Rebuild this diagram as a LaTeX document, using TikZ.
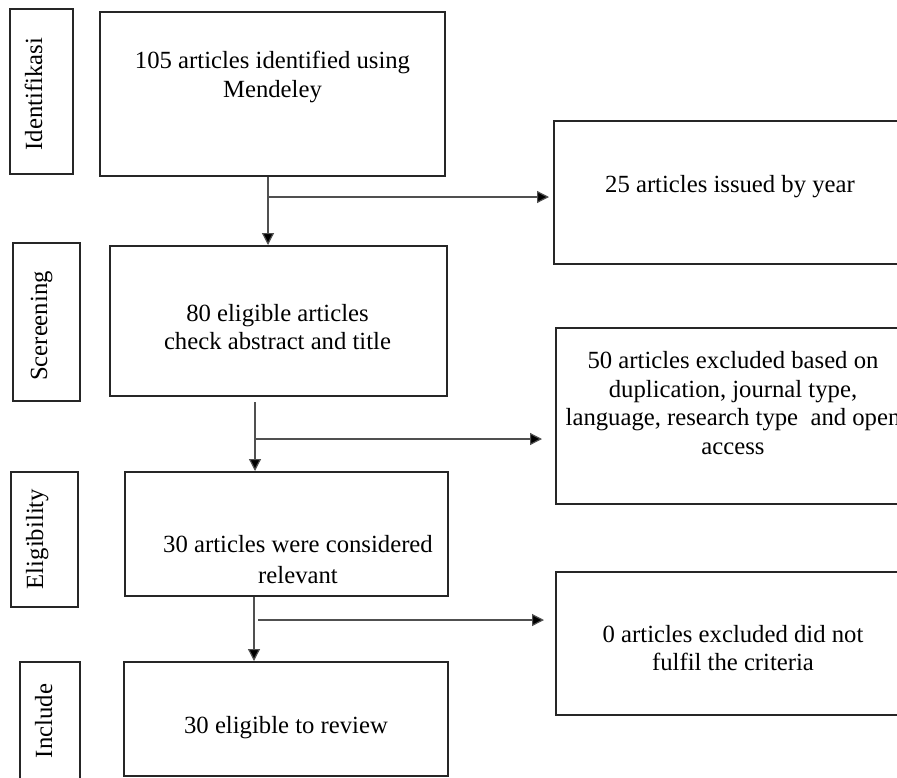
\documentclass[tikz,border=0pt]{standalone}
\usepackage{fontspec}
\setmainfont{Liberation Serif}
\usetikzlibrary{fit,arrows.meta}
\definecolor{bordercol}{HTML}{262626}
\definecolor{linecol}{HTML}{505050}
\tikzset{
  box/.style={draw=bordercol, line width=1pt, inner sep=0pt, rectangle},
  txt/.style={align=center, font=\fontsize{12.35pt}{14.25pt}\selectfont, inner sep=0pt, text=black},
  lbl/.style={rotate=90, anchor=base, font=\fontsize{12.35pt}{14.25pt}\selectfont, inner sep=0pt},
  arr/.style={draw=linecol, line width=0.6pt, -{Triangle[length=6pt,width=6pt,fill=black]}},
  ln/.style={draw=linecol, line width=0.6pt}
}
\begin{document}
\begin{tikzpicture}[x=0.5pt,y=-0.5pt]
\useasboundingbox (0,0) rectangle (897,777);
\clip (0,0) rectangle (897,777);
% stage labels
\node[box, fit={(10,9) (73,174)}] (L1) {};
\node[box, fit={(13,243) (80,401)}] (L2) {};
\node[box, fit={(11,472) (78,607)}] (L3) {};
\node[box, fit={(20,662) (80,820)}] (L4) {};
\node[lbl] (L1t) at (42,94) {Identifikasi};
\node[lbl] (L2t) at (47,326) {Scereening};
\node[lbl] (L3t) at (43,539) {Eligibility};
\node[lbl] (L4t) at (52,721) {Include};
% main boxes
\node[box, fit={(100,12) (445,176)}] (b1) {};
\node[box, fit={(110,246) (447,396)}] (b2) {};
\node[box, fit={(125,472) (448,596)}] (b3) {};
\node[box, fit={(124,662) (448,776)}] (b4) {};
\node[txt] (b1t) at (272.5,77) {105 articles identified using\\Mendeley};
\node[txt] (b2t) at (277.5,327) {80 eligible articles\\check abstract and title};
\node[txt, font=\fontsize{12.35pt}{15.5pt}\selectfont] (b3t) at (298,560) {30 articles were considered\\relevant};
\node[txt] (b4t) at (286,728) {30 eligible to review};
% right boxes
\node[box, fit={(554,121) (940,264)}] (r1) {};
\node[box, fit={(556,328) (940,504)}] (r2) {};
\node[box, fit={(556,572) (940,715)}] (r3) {};
\node[txt] (r1t) at (730,187) {25 articles issued by year};
\node[txt] (r2t) at (733,403) {50 articles excluded based on\\duplication, journal type,\\language, research type\ \ and open\\access};
\node[txt] (r3t) at (733,648) {0 articles excluded did not\\fulfil the criteria};
% connectors
\coordinate (c1) at (268,197);
\coordinate (c2) at (255,439);
\coordinate (c3) at (258,620);
\coordinate (v3) at (254,620);
\draw[arr] (b1.south -| c1) -- (b2.north -| c1);
\draw[arr, shorten >=2pt] (c1) -- (r1.west |- c1);
\draw[arr, shorten <=2.5pt] (b2.south -| c2) -- (b3.north -| c2);
\draw[arr, shorten >=6.5pt] (c2) -- (r2.west |- c2);
\draw[arr] (b3.south -| v3) -- (b4.north -| v3);
\draw[arr, shorten >=5.5pt] (c3) -- (r3.west |- c3);
\end{tikzpicture}
\end{document}
